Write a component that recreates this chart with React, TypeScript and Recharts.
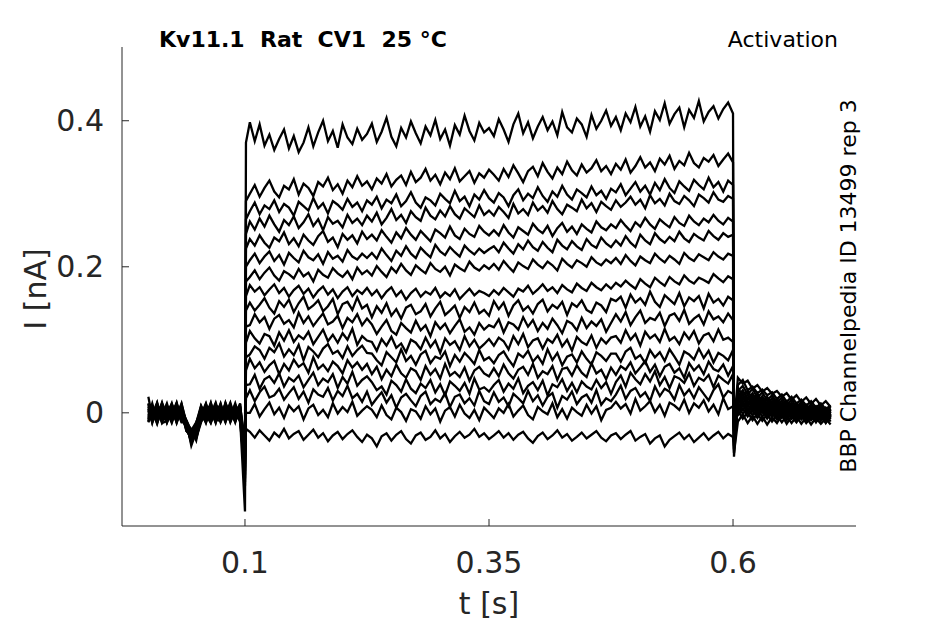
import { LineChart, Line, XAxis, YAxis } from 'recharts';

// sample times in ms (pre-pulse, step onset, step, step offset, tail)
const T_MS = [
  1, 5, 10, 15, 20, 25, 30, 35, 40, 45, 50, 55, 60, 65, 70, 75, 80, 85, 90, 95,
  100, 101,
  105, 110, 115, 120, 125, 130, 135, 140, 145, 150, 155, 160, 165, 170, 175, 180, 185, 190, 195, 200, 205, 210, 215, 220, 225,
  230, 235, 240, 245, 250, 255, 260, 265, 270, 275, 280, 285, 290, 295, 300, 305, 310, 315, 320, 325, 330, 335, 340, 345, 350,
  355, 360, 365, 370, 375, 380, 385, 390, 395, 400, 405, 410, 415, 420, 425, 430, 435, 440, 445, 450, 455, 460, 465, 470, 475,
  480, 485, 490, 495, 500, 505, 510, 515, 520, 525, 530, 535, 540, 545, 550, 555, 560, 565, 570, 575, 580, 585, 590, 595, 600,
  601,
  605, 610, 615, 620, 625, 630, 635, 640, 645, 650, 655, 660, 665, 670, 675, 680, 685, 690, 695, 700,
];

// current traces in pA, one per voltage step
const trace01 = [
  22, -6, 9, -13, 4, -3, 12, -9, -18, -36, -24, 3, -8, 13, -5, 6, -12, 9, -3, 4,
  -60, 370,
  398, 372, 395, 366, 381, 360, 375, 388, 362, 379, 357, 370, 391, 365, 384, 400, 372, 386, 363, 395, 377, 368, 389, 374, 382,
  396, 371, 385, 404, 378, 365, 390, 377, 399, 383, 369, 392, 380, 401, 375, 388, 366, 394, 381, 407, 386, 373, 397, 384, 390,
  379, 402, 388, 371, 395, 410, 383, 398, 376, 392, 405, 387, 399, 380, 412, 391, 384, 403, 395, 378, 408, 389, 400, 414, 393,
  405, 387, 410, 398, 419, 392, 406, 385, 413, 401, 424, 396, 409, 418, 391, 415, 404, 427, 399, 412, 420, 403, 416, 425, 410,
  -20,
  48, 40, 44, 33, 38, 29, 34, 26, 30, 22, 27, 18, 24, 15, 21, 12, 19, 10, 16, 8,
];
const trace02 = [
  -9, 8, -14, 3, -5, 11, -8, 2, -25, -30, -16, -6, 9, -3, 12, -11, 3, -6, 10, -13,
  -80, 290,
  300, 312, 296, 308, 318, 303, 295, 311, 306, 320, 299, 314, 308, 297, 316, 310, 322, 305, 313, 300, 318, 309, 324, 311, 317,
  306, 321, 314, 327, 310, 319, 325, 312, 330, 316, 322, 334, 318, 326, 313, 329, 320, 335, 317, 324, 331, 315, 328, 322, 333,
  326, 318, 334, 323, 339, 328, 316, 331, 337, 324, 342, 330, 321, 336, 327, 344, 332, 325, 340, 329, 335, 346, 331, 338, 327,
  341, 333, 347, 329, 338, 350, 336, 343, 331, 348, 340, 352, 334, 345, 339, 356, 342, 336, 349, 344, 353, 338, 347, 355, 343,
  -35,
  38, 45, 31, 36, 27, 32, 24, 28, 19, 25, 15, 22, 13, 18, 10, 16, 7, 13, 5, 10,
];
const trace03 = [
  5, -12, 6, -3, 13, -9, 0, 8, -16, -42, -22, 9, -5, 2, -13, 8, -2, 14, -9, 3,
  -50, 265,
  276, 288, 272, 284, 279, 291, 275, 286, 281, 270, 289, 283, 277, 294, 280, 287, 273, 290, 285, 278, 293, 282, 288, 276, 291,
  285, 296, 280, 292, 287, 299, 283, 290, 302, 288, 281, 295, 291, 284, 300, 293, 287, 304, 290, 296, 283, 299, 292, 305, 294,
  288, 301, 295, 283, 298, 306, 291, 300, 294, 309, 297, 289, 303, 296, 311, 299, 292, 306, 301, 295, 310, 298, 304, 293, 307,
  302, 313, 298, 307, 316, 303, 311, 299, 315, 305, 320, 308, 301, 317, 310, 304, 319, 312, 306, 322, 309, 316, 303, 318, 312,
  -15,
  30, 37, 25, 33, 21, 28, 17, 24, 14, 21, 10, 18, 8, 15, 5, 12, 3, 10, 1, 8,
];
const trace04 = [
  -13, 3, -8, 12, -6, 2, -11, 5, -12, -26, -34, -9, 6, -12, 3, -5, 12, -8, 2, -6,
  -95, 245,
  262, 251, 266, 255, 270, 258, 248, 264, 257, 269, 253, 261, 272, 256, 265, 250, 268, 259, 263, 254, 271, 260, 266, 257, 270,
  262, 274, 258, 267, 279, 264, 271, 260, 276, 268, 263, 281, 270, 265, 277, 269, 283, 272, 266, 280, 274, 268, 284, 271, 277,
  270, 282, 275, 267, 286, 273, 279, 271, 288, 277, 283, 274, 290, 279, 272, 285, 281, 276, 292, 280, 287, 275, 289, 283, 278,
  291, 282, 288, 296, 285, 292, 280, 298, 287, 293, 284, 300, 290, 286, 297, 291, 283, 299, 294, 288, 302, 292, 289, 297, 293,
  -45,
  34, 24, 30, 19, 26, 15, 22, 12, 19, 9, 16, 7, 13, 4, 11, 2, 9, 0, 7, -1,
];
const trace05 = [
  8, -5, 13, -11, 2, -14, 6, -3, -20, -34, -18, -2, -13, 8, -6, 13, -9, 5, -13, 9,
  -40, 225,
  238, 229, 243, 233, 226, 240, 235, 247, 231, 239, 228, 244, 236, 230, 242, 249, 234, 240, 227, 245, 237, 243, 232, 248, 238,
  244, 236, 250, 241, 233, 247, 239, 253, 244, 237, 249, 242, 235, 251, 246, 240, 255, 243, 238, 252, 245, 241, 256, 248, 243,
  250, 243, 257, 247, 240, 254, 249, 244, 259, 251, 246, 256, 242, 253, 260, 248, 255, 245, 258, 252, 247, 262, 254, 250, 258,
  253, 264, 256, 249, 261, 255, 267, 258, 252, 265, 259, 254, 268, 260, 256, 270, 262, 257, 266, 261, 271, 263, 258, 267, 262,
  -25,
  22, 31, 18, 27, 14, 23, 11, 20, 8, 17, 5, 14, 3, 12, 1, 10, -1, 8, -2, 6,
];
const trace06 = [
  -3, 10, -9, 5, -12, 8, -5, 13, -14, -23, -38, -5, 12, -8, 9, -13, 2, -11, 6, -2,
  -70, 200,
  209, 218, 205, 214, 221, 208, 216, 203, 219, 212, 206, 222, 213, 209, 217, 204, 220, 211, 215, 207, 223, 214, 210, 218, 212,
  219, 211, 225, 216, 208, 222, 215, 228, 218, 212, 226, 219, 213, 230, 221, 216, 227, 220, 214, 229, 222, 217, 225, 219, 224,
  228, 220, 233, 225, 218, 231, 224, 236, 227, 222, 234, 226, 220, 237, 229, 224, 235, 228, 223, 238, 230, 226, 240, 232, 227,
  236, 229, 242, 233, 227, 244, 236, 231, 246, 238, 233, 241, 235, 248, 239, 234, 245, 240, 236, 249, 242, 237, 246, 241, 244,
  -10,
  29, 19, 25, 15, 22, 12, 19, 9, 16, 6, 14, 4, 11, 2, 9, 0, 8, -2, 6, -3,
];
const trace07 = [
  12, -13, 2, -8, 9, -2, 14, -10, -11, -28, -15, 8, -3, -14, 5, -3, 9, -5, 13, -8,
  -135, 180,
  186, 195, 183, 192, 199, 188, 181, 194, 190, 184, 197, 187, 192, 180, 196, 189, 185, 198, 191, 186, 194, 183, 199, 190, 195,
  188, 201, 193, 186, 199, 192, 204, 195, 189, 202, 196, 191, 205, 197, 193, 200, 188, 203, 198, 194, 207, 199, 195, 202, 197,
  204, 196, 208, 200, 193, 206, 201, 197, 210, 203, 198, 207, 202, 195, 211, 204, 199, 209, 205, 200, 213, 206, 202, 210, 205,
  212, 204, 216, 208, 202, 214, 209, 205, 218, 211, 206, 215, 210, 204, 219, 212, 208, 217, 213, 209, 220, 214, 210, 218, 215,
  -60,
  17, 26, 13, 22, 10, 19, 7, 16, 4, 13, 2, 11, 0, 9, -2, 7, -3, 6, -4, 4,
];
const trace08 = [
  -6, 2, -15, 9, -3, 13, -12, 3, -17, -39, -20, -12, 5, 10, -9, 3, -13, 8, -6, 12,
  -55, 160,
  175, 166, 172, 161, 169, 176, 164, 171, 159, 168, 174, 163, 170, 158, 167, 173, 162, 169, 157, 166, 172, 160, 168, 163, 171,
  161, 168, 157, 166, 172, 160, 167, 155, 164, 170, 159, 166, 162, 171, 158, 165, 160, 169, 156, 163, 170, 161, 167, 164, 160,
  168, 162, 171, 165, 159, 170, 166, 174, 163, 169, 176, 167, 172, 164, 175, 169, 165, 177, 171, 167, 178, 172, 168, 176, 170,
  178, 173, 181, 175, 170, 183, 177, 172, 185, 179, 174, 186, 180, 176, 188, 181, 177, 185, 182, 178, 190, 184, 179, 187, 183,
  -30,
  24, 14, 21, 11, 18, 8, 15, 5, 13, 3, 11, 1, 9, -1, 7, -3, 6, -4, 5, -5,
];
const trace09 = [
  3, -9, 10, -2, -13, 5, 8, -6, -21, -24, -13, 2, -9, -2, 14, -8, 6, -12, 3, -5,
  -85, 140,
  151, 140, 148, 157, 144, 136, 153, 145, 155, 138, 150, 159, 142, 147, 154, 139, 146, 156, 135, 149, 152, 141, 158, 143, 148,
  131, 146, 137, 150, 133, 142, 129, 144, 148, 135, 139, 149, 132, 143, 152, 134, 140, 147, 130, 145, 138, 151, 136, 141, 133,
  153, 142, 151, 133, 147, 154, 140, 146, 136, 149, 155, 139, 148, 143, 152, 134, 150, 145, 154, 141, 137, 151, 147, 138, 156,
  153, 159, 144, 162, 151, 157, 148, 166, 152, 145, 161, 155, 149, 164, 146, 158, 153, 160, 143, 163, 151, 156, 147, 159, 154,
  -20,
  12, 21, 9, 18, 6, 15, 4, 13, 2, 11, 0, 9, -2, 8, -3, 6, -4, 5, -5, 4,
];
const trace10 = [
  -11, 6, -5, 14, -9, -6, 3, -13, -13, -33, -29, -8, 10, -11, -2, 9, -5, 2, -11, 8,
  -45, 118,
  120, 135, 124, 131, 115, 129, 134, 122, 127, 117, 137, 123, 132, 119, 128, 136, 121, 125, 133, 116, 130, 124, 135, 120, 129,
  121, 108, 118, 127, 112, 107, 123, 116, 110, 126, 113, 120, 105, 124, 115, 122, 109, 119, 128, 111, 117, 107, 123, 114, 120,
  117, 128, 110, 124, 121, 114, 131, 118, 127, 112, 123, 115, 129, 120, 109, 126, 122, 113, 130, 116, 125, 119, 128, 111, 123,
  135, 125, 138, 120, 131, 140, 123, 130, 127, 137, 119, 133, 136, 126, 141, 122, 129, 134, 121, 139, 128, 132, 124, 136, 127,
  -40,
  19, 9, 16, 6, 13, 4, 11, 2, 9, 0, 8, -2, 6, -4, 5, -5, 4, -6, 3, -7,
];
const trace11 = [
  9, -3, 14, -12, 6, 2, -9, 10, -19, -40, -19, 5, -12, 6, -8, -12, 13, -3, 8, -9,
  -65, 96,
  112, 102, 95, 108, 105, 92, 110, 99, 113, 97, 106, 101, 111, 94, 104, 114, 98, 107, 96, 109, 100, 115, 93, 105, 99,
  97, 85, 101, 92, 104, 89, 95, 83, 100, 96, 87, 103, 90, 99, 82, 102, 93, 98, 86, 105, 91, 100, 88, 94, 101,
  92, 103, 98, 87, 105, 94, 108, 90, 99, 102, 88, 101, 96, 107, 91, 100, 85, 104, 97, 93, 106, 89, 102, 95, 103,
  105, 96, 113, 100, 108, 92, 111, 102, 107, 97, 115, 99, 104, 94, 110, 101, 112, 95, 106, 109, 98, 114, 100, 103, 97,
  -15,
  7, 16, 4, 13, 2, 11, 0, 9, -2, 8, -3, 6, -5, 5, -6, 4, -7, 3, -8, 2,
];
const trace12 = [
  -5, 13, -11, 3, -8, 9, -14, 5, -10, -25, -35, -13, 2, -6, 10, 5, -9, 12, -8, 3,
  -100, 76,
  80, 91, 86, 74, 89, 83, 95, 77, 87, 79, 93, 72, 90, 84, 76, 88, 94, 81, 85, 75, 91, 78, 86, 92, 82,
  81, 72, 65, 83, 76, 69, 87, 71, 78, 66, 80, 85, 68, 77, 74, 84, 64, 79, 70, 82, 75, 67, 86, 72, 76,
  68, 79, 84, 73, 64, 81, 76, 85, 70, 78, 67, 87, 72, 82, 65, 77, 80, 69, 84, 74, 66, 83, 78, 71, 81,
  81, 70, 84, 89, 74, 79, 68, 86, 76, 83, 71, 87, 77, 66, 84, 80, 73, 88, 75, 85, 69, 82, 78, 72, 86,
  -50,
  14, 4, 11, 2, 9, 0, 7, -2, 6, -4, 4, -5, 3, -6, 2, -7, 1, -8, 0, -9,
];
const trace13 = [
  13, -8, 5, -9, 10, -12, 6, -2, -23, -36, -14, 10, -5, 14, -12, -2, 8, -13, 5, -3,
  -50, 58,
  74, 61, 69, 56, 65, 71, 53, 67, 58, 73, 63, 68, 55, 76, 60, 66, 57, 70, 64, 54, 72, 62, 69, 59, 67,
  53, 63, 46, 59, 50, 66, 54, 48, 61, 57, 45, 64, 52, 60, 47, 67, 51, 56, 49, 62, 44, 58, 63, 54, 50,
  61, 50, 66, 54, 47, 59, 63, 52, 67, 48, 57, 53, 64, 45, 60, 62, 51, 65, 55, 49, 68, 54, 59, 46, 62,
  52, 64, 59, 69, 54, 62, 71, 56, 66, 50, 63, 67, 55, 61, 48, 68, 58, 65, 53, 70, 60, 57, 66, 51, 64,
  -25,
  2, 11, 0, 9, -2, 7, -4, 6, -5, 4, -6, 3, -7, 2, -8, 1, -9, 0, -10, -1,
];
const trace14 = [
  -12, 5, -2, 8, -14, 3, -6, 12, -15, -29, -23, -3, 13, -9, 2, 10, -6, 3, -12, 6,
  -75, 38,
  39, 52, 33, 46, 50, 41, 54, 36, 48, 43, 51, 35, 45, 55, 38, 47, 42, 53, 34, 49, 40, 56, 37, 45, 50,
  42, 31, 36, 25, 44, 38, 29, 46, 33, 27, 40, 34, 45, 28, 39, 24, 43, 37, 30, 41, 26, 47, 32, 35, 29,
  38, 45, 29, 40, 33, 47, 27, 37, 42, 31, 44, 24, 39, 35, 46, 30, 41, 28, 43, 36, 32, 45, 34, 42, 26,
  42, 51, 36, 55, 46, 39, 53, 43, 57, 38, 49, 34, 50, 47, 41, 54, 37, 48, 44, 52, 35, 51, 45, 40, 53,
  -35,
  9, -1, 6, -3, 4, -5, 3, -6, 2, -7, 1, -8, 0, -9, -1, -10, -2, -11, -3, -12,
];
const trace15 = [
  6, -14, 12, -5, 3, -8, 13, -12, -12, -45, -26, 6, -11, 5, -14, 8, -3, 9, -2, -11,
  -35, 20,
  31, 16, 28, 36, 21, 24, 33, 18, 27, 35, 19, 29, 14, 32, 25, 22, 34, 17, 30, 23, 37, 20, 26, 15, 29,
  11, 20, 28, 14, 24, 7, 21, 26, 17, 9, 23, 29, 12, 19, 15, 27, 8, 22, 25, 13, 20, 10, 30, 16, 12,
  28, 15, 21, 9, 26, 20, 13, 30, 16, 24, 10, 22, 27, 7, 23, 18, 29, 12, 21, 25, 14, 31, 11, 20, 16,
  25, 37, 19, 30, 34, 22, 28, 16, 36, 23, 33, 29, 18, 38, 24, 32, 20, 35, 26, 17, 31, 39, 21, 30, 26,
  -10,
  -3, 6, -5, 4, -7, 3, -8, 2, -9, 1, -10, 0, -11, -1, -12, -2, -13, -3, -14, -4,
];
const trace16 = [
  -8, 9, -6, 13, -2, 12, -3, -8, -18, -22, -32, -11, 3, -13, 8, -9, 14, -6, 10, 2,
  -60, 0,
  0, 12, -5, 5, 14, -2, 7, -7, 10, 2, 9, -9, 6, 11, -3, 4, -6, 13, -1, 8, 1, 15, -4, 3, 9,
  4, -6, 10, -3, -9, 7, 1, -11, 5, 2, -8, 9, -2, 6, -12, 3, 8, -5, 11, -1, -7, 4, -10, 7, 0,
  -7, 6, 0, 12, -5, 3, 10, -3, -9, 8, 2, -2, 13, -6, 5, -8, 7, 1, -4, 11, -1, 9, -10, 4, 7,
  15, 6, 12, -1, 19, 3, 9, 16, 1, 11, -4, 14, 10, 4, 18, 0, 13, 7, 17, 2, 11, -2, 20, 5, 9,
  -30,
  3, -8, 1, -10, -1, -11, -2, -12, -3, -13, -4, -14, -5, -15, -6, -16, -7, -15, -8, -16,
];
const trace17 = [
  2, -11, 8, -14, -11, 5, -13, 9, -25, -33, -17, 2, -14, 9, -3, 12, -11, -2, -5, 13,
  -90, -22,
  -26, -34, -24, -31, -38, -27, -33, -22, -35, -29, -25, -37, -30, -23, -34, -28, -39, -31, -26, -36, -29, -24, -33, -40, -30,
  -35, -46, -32, -28, -38, -30, -25, -36, -42, -31, -27, -37, -33, -24, -35, -29, -40, -32, -26, -34, -30, -22, -33, -28, -36,
  -31, -25, -34, -28, -37, -30, -26, -35, -41, -32, -27, -36, -31, -24, -34, -29, -38, -33, -27, -35, -30, -25, -34, -39, -31,
  -28, -36, -30, -25, -38, -33, -29, -42, -35, -31, -46, -37, -32, -27, -36, -30, -40, -34, -28, -37, -31, -26, -35, -29, -33,
  -55,
  -12, -2, -14, -4, -15, -5, -16, -6, -14, -3, -15, -5, -13, -4, -14, -6, -12, -5, -13, -3,
];

const TRACES = [
  trace01, trace02, trace03, trace04, trace05, trace06, trace07, trace08, trace09,
  trace10, trace11, trace12, trace13, trace14, trace15, trace16, trace17,
];

const X_TICKS = [100, 350, 600]; // ms
const Y_TICKS = [0, 200, 400]; // pA

const rows = T_MS.map((t, i) => {
  const row: Record<string, number> = { t };
  TRACES.forEach((tr, k) => {
    row[`s${k}`] = tr[i];
  });
  return row;
});

const AXIS = '#262626';
const FONT = 'DejaVu Sans';

export default function App() {
  return (
    <div style={{ position: 'absolute', left: 0, top: 0, width: 945, height: 624, background: '#fff' }}>
      <LineChart width={945} height={624} data={rows} margin={{ top: 47, right: 89, bottom: 38, left: 62 }}>
        <XAxis
          type="number"
          dataKey="t"
          domain={[-26, 726]}
          allowDataOverflow
          ticks={X_TICKS}
          interval={0}
          tickFormatter={(v) => String(v / 1000)}
          height={60}
          tickSize={-7}
          tickMargin={33}
          axisLine={{ stroke: AXIS }}
          tickLine={{ stroke: AXIS }}
          tick={{ fill: AXIS, fontSize: 30, fontFamily: FONT }}
        />
        <YAxis
          type="number"
          domain={[-155, 501]}
          allowDataOverflow
          ticks={Y_TICKS}
          interval={0}
          tickFormatter={(v) => String(v / 1000)}
          width={60}
          tickSize={-7}
          tickMargin={25}
          axisLine={{ stroke: AXIS }}
          tickLine={{ stroke: AXIS }}
          tick={{ fill: AXIS, fontSize: 30, fontFamily: FONT }}
        />
        {TRACES.map((_, k) => (
          <Line
            key={k}
            dataKey={`s${k}`}
            type="linear"
            stroke="#000"
            strokeWidth={2.3}
            dot={false}
            isAnimationActive={false}
          />
        ))}
      </LineChart>
      <svg width={945} height={624} style={{ position: 'absolute', left: 0, top: 0, pointerEvents: 'none' }} fontFamily={FONT}>
        <text x={159} y={47} fontSize={22} fontWeight="bold" fill="#000">
          {'Kv11.1\u00a0 Rat\u00a0 CV1\u00a0 25 °C'}
        </text>
        <text x={838} y={47} fontSize={22} textAnchor="end" fill="#000">Activation</text>
        <text transform="translate(856,286) rotate(-90)" fontSize={22} textAnchor="middle" fill="#000">
          BBP Channelpedia ID 13499 rep 3
        </text>
        <text x={489} y={614} fontSize={30} textAnchor="middle" fill={AXIS}>t [s]</text>
        <text transform="translate(46,289) rotate(-90)" fontSize={30} textAnchor="middle" fill={AXIS}>I [nA]</text>
      </svg>
    </div>
  );
}
